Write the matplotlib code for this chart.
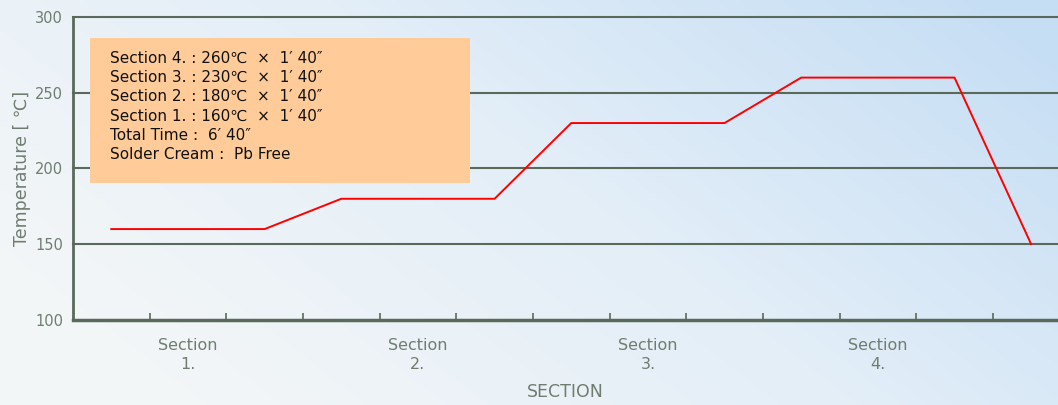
import numpy as np
import matplotlib
matplotlib.use("Agg")
import matplotlib.pyplot as plt
from matplotlib.colors import LinearSegmentedColormap

plt.rcParams['font.family'] = ['DejaVu Sans', 'Noto Sans CJK KR']

# reflow profile, x in tick units (3 ticks per section)
time_pts = [0.5, 2.5, 3.5, 5.5, 6.5, 8.5, 9.5, 11.5, 12.5]
temp_pts = [160, 160, 180, 180, 230, 230, 260, 260, 150]

section_pos = [1.5, 4.5, 7.5, 10.5]
section_labels = ["Section\n1.", "Section\n2.", "Section\n3.", "Section\n4."]
y_ticks = [100, 150, 200, 250, 300]

info_lines = [
    "Section 4. : 260\u2103  \u00d7  1\u2032 40\u2033",
    "Section 3. : 230\u2103  \u00d7  1\u2032 40\u2033",
    "Section 2. : 180\u2103  \u00d7  1\u2032 40\u2033",
    "Section 1. : 160\u2103  \u00d7  1\u2032 40\u2033",
    "Total Time :  6\u2032 40\u2033",
    "Solder Cream :  Pb Free",
]

axc = "#5a6a5a"
txc = "#6f7d6f"

fig = plt.figure(figsize=(10.58, 4.05), dpi=100)

# soft blue background
bg = fig.add_axes([0, 0, 1, 1], zorder=0)
gx = np.linspace(0, 1, 200)
gy = np.linspace(0, 1, 100)
GX, GY = np.meshgrid(gx, gy)
grad = np.clip(0.8 * GX + 0.4 * (1 - GY) - 0.15, 0, 1)
cmap = LinearSegmentedColormap.from_list("bgc", ["#f3f6f7", "#e3eef8", "#c6def4"])
bg.imshow(grad, cmap=cmap, aspect="auto", extent=[0, 1, 0, 1], origin="upper")
bg.axis("off")

ax = fig.add_axes([0.069, 0.21, 0.931, 0.748], zorder=1)
ax.patch.set_alpha(0)

for v in y_ticks[1:]:
    ax.axhline(v, color=axc, lw=1.5, zorder=1, clip_on=False)
ax.plot(time_pts, temp_pts, color="#ff0000", lw=1.4, zorder=3)

ax.set_xlim(0, 12.85)
ax.set_ylim(100, 300)
ax.set_yticks(y_ticks)
ax.set_xticks(range(1, 13))
ax.set_xticklabels([])
ax.set_xticks(section_pos, minor=True)
ax.set_xticklabels(section_labels, minor=True)
ax.tick_params(axis="x", which="major", direction="in", length=5, width=1.2, color=axc)
ax.tick_params(axis="x", which="minor", length=0, pad=13, labelcolor=txc,
               labelsize=11.5)
ax.tick_params(axis="y", length=0, pad=7, labelcolor=txc, labelsize=10.5)
for lbl in ax.get_xticklabels(minor=True):
    lbl.set_linespacing(1.3)

for s in ["top", "right"]:
    ax.spines[s].set_visible(False)
ax.spines["left"].set_color(axc)
ax.spines["left"].set_linewidth(2)
ax.spines["bottom"].set_color(axc)
ax.spines["bottom"].set_linewidth(2.5)

ax.set_xlabel("SECTION", color=txc, fontsize=12.5, labelpad=8)
ax.set_ylabel("Temperature [ \u2103]", color=txc, fontsize=12.5, labelpad=3)

# info box
fig.patches.append(plt.Rectangle((90 / 1058, 1 - 183 / 405), 380 / 1058, 145 / 405,
                                 transform=fig.transFigure, facecolor="#ffcc99",
                                 edgecolor="none", zorder=2))
for i, line in enumerate(info_lines):
    fig.text(110 / 1058, 1 - (58 + i * 19.4) / 405, line, fontsize=11,
             family="DejaVu Sans", color="#111111", va="center", ha="left",
             zorder=3)

fig.savefig("out.png", dpi=100)
